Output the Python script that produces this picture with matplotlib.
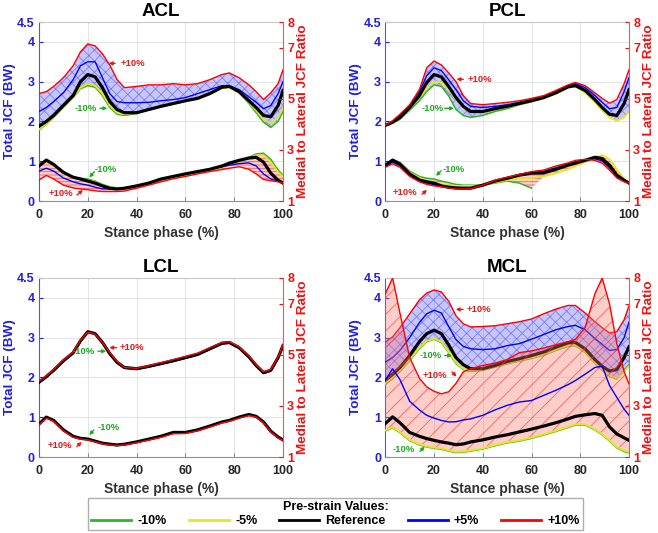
import numpy as np
import matplotlib
matplotlib.use('Agg')
import matplotlib.pyplot as plt
from matplotlib.lines import Line2D

plt.rcParams['font.family'] = ['Liberation Sans', 'DejaVu Sans']
plt.rcParams['font.weight'] = 'bold'
plt.rcParams['hatch.linewidth'] = 0.6

nan = np.nan

# ---------------- data ----------------
stance = [0, 3, 6, 10, 14, 17, 20, 23, 26, 29, 32, 35, 40, 45, 50, 55, 60, 65, 70, 75, 78, 82, 86, 89, 92, 95, 98, 100]

series_labels = ['-10%', '-5%', 'Reference', '+5%', '+10%']
series_colors = ['#2db52d', '#e6e620', '#000000', '#0000ff', '#ff0000']

# ACL - Total JCF (BW)
acl_jcf_m10 = [1.78,1.93,2.10,2.36,2.60,2.82,2.90,2.86,2.65,2.35,2.18,2.15,2.20,2.30,2.38,2.45,2.52,2.60,2.72,2.85,2.86,2.72,2.45,2.22,1.98,1.85,2.00,2.25]
acl_jcf_m5  = [1.80,1.95,2.12,2.38,2.62,2.85,2.95,2.90,2.70,2.40,2.22,2.18,2.22,2.30,2.38,2.45,2.52,2.60,2.72,2.85,2.86,2.72,2.48,2.28,2.05,1.95,2.10,2.35]
acl_jcf_ref = [1.88,2.00,2.15,2.40,2.65,3.00,3.18,3.12,2.85,2.50,2.30,2.22,2.22,2.30,2.38,2.45,2.52,2.58,2.70,2.86,2.88,2.75,2.52,2.35,2.15,2.12,2.40,2.78]
acl_jcf_p5  = [2.25,2.35,2.50,2.72,3.05,3.40,3.50,3.50,3.10,2.70,2.50,2.47,2.47,2.48,2.52,2.55,2.60,2.70,2.80,2.90,2.90,2.80,2.62,2.48,2.32,2.40,2.70,3.00]
acl_jcf_p10 = [2.70,2.75,2.88,3.10,3.40,3.75,3.95,3.90,3.70,3.42,3.05,2.85,2.88,2.92,2.92,2.95,2.92,2.95,3.05,3.18,3.22,3.10,2.92,2.75,2.55,2.72,2.95,3.30]
# ACL - Medial to lateral JCF ratio
acl_rat_m10 = [2.48,2.56,2.43,2.12,1.93,1.89,1.86,1.78,1.65,1.56,1.51,1.50,1.56,1.68,1.81,1.90,2.00,2.09,2.20,2.32,2.43,2.56,2.71,2.84,2.87,2.63,2.21,2.01]
acl_rat_m5  = [2.43,2.52,2.40,2.09,1.90,1.86,1.81,1.75,1.62,1.54,1.50,1.50,1.56,1.68,1.81,1.90,2.00,2.09,2.20,2.32,2.43,2.56,2.68,2.79,2.79,2.52,2.12,1.96]
acl_rat_ref = [2.37,2.60,2.43,2.12,1.93,1.86,1.78,1.70,1.59,1.50,1.47,1.50,1.59,1.70,1.86,1.96,2.06,2.15,2.24,2.37,2.48,2.59,2.68,2.71,2.52,2.09,1.81,1.70]
acl_rat_p5  = [2.17,2.28,2.17,1.90,1.75,1.67,1.62,1.54,1.47,1.47,1.47,1.50,1.59,1.72,1.84,1.96,2.06,2.15,2.24,2.34,2.40,2.46,2.49,2.37,2.06,1.86,1.78,1.70]
acl_rat_p10 = [1.82,2.00,1.86,1.62,1.51,1.47,1.44,1.40,1.37,1.37,1.37,1.39,1.50,1.62,1.75,1.87,1.96,2.06,2.15,2.23,2.28,2.34,2.24,2.06,1.84,1.79,1.75,1.70]

# PCL
pcl_jcf_m10 = [1.90,1.96,2.05,2.28,2.52,2.75,2.92,2.88,2.64,2.30,2.15,2.10,2.15,2.25,2.32,2.42,2.50,nan,nan,nan,nan,nan,nan,nan,nan,nan,nan,nan]
pcl_jcf_m5  = [1.90,1.97,2.08,2.32,2.60,2.85,3.00,2.98,2.80,2.55,2.35,2.25,2.22,2.30,2.36,2.43,2.50,2.58,2.70,2.85,2.88,2.72,2.48,2.28,2.10,2.02,2.10,2.25]
pcl_jcf_ref = [1.90,1.98,2.10,2.35,2.65,2.98,3.18,3.12,2.88,2.60,2.38,2.25,2.25,2.32,2.38,2.45,2.52,2.60,2.72,2.87,2.90,2.78,2.55,2.35,2.18,2.15,2.45,2.80]
pcl_jcf_p5  = [1.90,2.00,2.15,2.40,2.75,3.15,3.35,3.28,3.05,2.80,2.52,2.38,2.35,2.38,2.42,2.48,2.55,2.62,2.75,2.90,2.95,2.85,2.65,2.48,2.32,2.35,2.75,3.10]
pcl_jcf_p10 = [1.90,2.02,2.18,2.42,2.80,3.35,3.52,3.42,3.22,3.00,2.65,2.45,2.42,2.45,2.48,2.52,2.58,2.65,2.78,2.92,2.98,2.90,2.72,2.58,2.46,2.55,2.95,3.30]
pcl_rat_m10 = [2.40,2.62,2.51,2.17,1.96,1.89,1.86,1.78,1.72,1.65,1.62,1.62,1.62,1.70,1.78,1.70,1.50,nan,nan,nan,nan,nan,nan,nan,nan,nan,nan,nan]
pcl_rat_m5  = [2.40,2.59,2.48,2.12,1.90,1.81,1.75,1.65,1.62,1.59,1.59,1.59,1.62,1.73,1.82,1.89,1.90,1.96,2.09,2.24,2.37,2.52,2.71,2.79,2.63,2.24,1.86,1.70]
pcl_rat_ref = [2.40,2.60,2.45,2.06,1.82,1.75,1.70,1.59,1.54,1.51,1.50,1.50,1.62,1.78,1.89,2.01,2.09,2.10,2.24,2.40,2.48,2.59,2.71,2.66,2.40,2.01,1.81,1.70]
pcl_rat_p5  = [2.36,2.52,2.38,2.00,1.78,1.70,1.64,1.57,1.52,1.49,1.48,1.49,1.62,1.80,1.91,2.03,2.12,2.16,2.30,2.45,2.53,2.61,2.65,2.57,2.30,1.95,1.78,1.70]
pcl_rat_p10 = [2.32,2.45,2.32,1.96,1.75,1.65,1.59,1.56,1.51,1.47,1.47,1.48,1.62,1.81,1.93,2.04,2.15,2.21,2.37,2.49,2.59,2.63,2.59,2.48,2.21,1.90,1.75,1.70]

# LCL
lcl_jcf_m10 = [1.88,2.02,2.18,2.42,2.62,2.92,3.15,3.10,2.88,2.60,2.38,2.25,2.22,2.28,2.35,2.42,2.50,2.58,2.72,2.86,2.88,2.75,2.52,2.30,2.12,2.18,2.50,2.80]
lcl_jcf_m5  = [1.88,2.02,2.18,2.42,2.62,2.92,3.15,3.10,2.88,2.60,2.38,2.25,2.22,2.28,2.35,2.42,2.50,2.58,2.72,2.86,2.88,2.75,2.52,2.30,2.12,2.18,2.50,2.80]
lcl_jcf_ref = [1.88,2.02,2.18,2.42,2.62,2.92,3.15,3.10,2.88,2.60,2.38,2.25,2.22,2.28,2.35,2.42,2.50,2.58,2.72,2.86,2.88,2.75,2.52,2.30,2.12,2.18,2.50,2.80]
lcl_jcf_p5  = [1.86,2.00,2.16,2.40,2.60,2.90,3.14,3.09,2.87,2.58,2.36,2.23,2.20,2.26,2.33,2.40,2.48,2.56,2.70,2.84,2.86,2.73,2.50,2.28,2.10,2.16,2.48,2.78]
lcl_jcf_p10 = [1.90,2.04,2.20,2.44,2.64,2.94,3.14,3.09,2.88,2.62,2.40,2.25,2.23,2.30,2.37,2.45,2.53,2.61,2.75,2.88,2.90,2.77,2.54,2.32,2.14,2.20,2.52,2.82]
lcl_rat_m10 = [2.29,2.56,2.43,2.06,1.81,1.73,1.70,1.62,1.54,1.50,1.47,1.50,1.59,1.70,1.81,1.96,1.96,2.06,2.21,2.37,2.43,2.56,2.66,2.59,2.37,2.01,1.78,1.67]
lcl_rat_m5  = [2.29,2.56,2.43,2.06,1.81,1.73,1.70,1.62,1.54,1.50,1.47,1.50,1.59,1.70,1.81,1.96,1.96,2.06,2.21,2.37,2.43,2.56,2.66,2.59,2.37,2.01,1.78,1.67]
lcl_rat_ref = [2.29,2.56,2.43,2.06,1.81,1.73,1.70,1.62,1.54,1.50,1.47,1.50,1.59,1.70,1.81,1.96,1.96,2.06,2.21,2.37,2.43,2.56,2.66,2.59,2.37,2.01,1.78,1.67]
lcl_rat_p5  = [2.27,2.54,2.41,2.04,1.79,1.71,1.68,1.60,1.52,1.48,1.45,1.48,1.57,1.68,1.79,1.94,1.94,2.04,2.19,2.35,2.41,2.54,2.64,2.57,2.35,1.99,1.76,1.65]
lcl_rat_p10 = [2.25,2.52,2.40,2.02,1.77,1.70,1.67,1.59,1.51,1.47,1.45,1.47,1.56,1.66,1.77,1.91,1.92,2.02,2.17,2.33,2.40,2.52,2.62,2.56,2.34,1.98,1.75,1.65]

# MCL
mcl_jcf_m10 = [1.82,1.97,2.15,2.42,2.72,2.90,2.96,2.88,2.62,2.35,2.20,2.15,2.18,2.26,2.34,2.41,2.48,2.56,2.68,2.78,2.80,2.63,2.36,2.18,2.03,1.96,2.18,2.32]
mcl_jcf_m5  = [1.85,2.00,2.18,2.45,2.75,2.92,2.98,2.90,2.65,2.38,2.22,2.17,2.20,2.28,2.36,2.43,2.50,2.58,2.70,2.80,2.82,2.65,2.38,2.20,2.05,1.98,2.15,2.28]
mcl_jcf_ref = [1.93,2.08,2.25,2.55,2.90,3.10,3.19,3.10,2.82,2.50,2.32,2.22,2.22,2.30,2.40,2.47,2.55,2.64,2.76,2.87,2.88,2.72,2.45,2.28,2.16,2.20,2.50,2.77]
mcl_jcf_p5  = [2.39,2.50,2.68,3.00,3.38,3.60,3.69,3.62,3.28,2.95,2.78,2.72,2.70,2.72,2.80,2.85,2.96,3.08,3.20,3.28,3.31,3.20,2.98,2.83,2.68,2.70,3.00,3.39]
mcl_jcf_p10 = [2.89,3.02,3.25,3.60,3.95,4.12,4.20,4.15,3.92,3.55,3.35,3.27,3.28,3.30,3.35,3.40,3.47,3.60,3.72,3.81,3.81,3.62,3.40,3.25,3.12,3.15,3.45,3.80]
mcl_rat_m10 = [2.01,2.14,1.95,1.64,1.47,1.39,1.34,1.30,1.23,1.17,1.19,1.23,1.31,1.44,1.55,1.62,1.73,1.86,2.00,2.15,2.25,2.25,2.06,1.87,1.62,1.36,1.21,1.16]
mcl_rat_m5  = [2.04,2.17,1.98,1.67,1.50,1.42,1.37,1.33,1.26,1.20,1.22,1.26,1.34,1.47,1.58,1.65,1.76,1.89,2.03,2.18,2.28,2.28,2.09,1.90,1.65,1.39,1.25,1.20]
mcl_rat_ref = [2.31,2.57,2.34,1.96,1.81,1.72,1.65,1.59,1.54,1.48,1.51,1.59,1.67,1.78,1.87,1.98,2.09,2.21,2.34,2.49,2.59,2.65,2.70,2.63,2.18,1.90,1.75,1.65]
mcl_rat_p5  = [4.00,4.45,4.03,3.18,2.84,2.63,2.52,2.43,2.37,2.38,2.45,2.49,2.63,2.84,3.02,3.15,3.21,3.41,3.61,3.83,3.99,4.24,4.50,4.55,3.80,3.33,2.87,2.63]
mcl_rat_p10 = [7.38,8.00,6.63,4.89,4.08,3.74,3.57,3.47,3.55,3.88,4.33,4.45,4.58,4.67,4.81,5.08,5.15,5.26,5.39,5.51,5.60,6.06,7.38,8.00,6.99,5.43,4.34,3.86]

# annotations: (text, colour, text_x, text_y, tail_x, tail_y, head_x, head_y) in Total-JCF units
acl_notes = [('+10%', 'r', 38.5, 3.46, 31.2, 3.46, 28.6, 3.46),
             ('-10%', 'g', 19.3, 2.33, 25.0, 2.33, 28.0, 2.33),
             ('-10%', 'g', 27.5, 0.80, 22.7, 0.74, 20.6, 0.59),
             ('+10%', 'r', 9.0, 0.20, 15.6, 0.15, 18.0, 0.28)]
pcl_notes = [('+10%', 'r', 38.9, 3.06, 32.0, 3.06, 29.2, 3.06),
             ('-10%', 'g', 19.6, 2.33, 24.4, 2.33, 28.2, 2.33),
             ('-10%', 'g', 28.2, 0.80, 22.9, 0.76, 20.8, 0.63),
             ('+10%', 'r', 8.1, 0.21, 15.1, 0.17, 17.1, 0.28)]
lcl_notes = [('-10%', 'g', 18.4, 2.66, 24.2, 2.66, 27.5, 2.66),
             ('+10%', 'r', 38.1, 2.75, 31.8, 2.75, 28.8, 2.75),
             ('-10%', 'g', 28.7, 0.74, 22.5, 0.68, 20.6, 0.55),
             ('+10%', 'r', 8.6, 0.30, 15.5, 0.26, 17.5, 0.38)]
mcl_notes = [('+10%', 'r', 38.4, 3.71, 31.9, 3.71, 28.9, 3.71),
             ('-10%', 'g', 18.6, 2.55, 24.4, 2.55, 27.4, 2.55),
             ('+10%', 'r', 20.4, 2.06, 27.4, 2.14, 29.2, 2.02),
             ('-10%', 'g', 7.6, 0.19, 14.2, 0.14, 16.2, 0.26)]

# ---------------- figure ----------------
W, H = 658, 533
fig = plt.figure(figsize=(W / 100, H / 100), dpi=100)

BLUE_TXT = '#1f1fe6'
RED_TXT = '#ee1111'
NOTE_COL = {'r': '#e31a1a', 'g': '#22aa22'}

def px_axes(l, t, r, b):
    return fig.add_axes([l / W, 1 - b / H, (r - l) / W, (b - t) / H])

def draw_panel(ax, title, jcf, rat, rat_hatch, notes):
    x = np.array(stance, dtype=float)
    ax2 = ax.twinx()
    ax.set_xlim(0, 100)
    ax.set_ylim(0, 4.5)
    ax2.set_ylim(1, 8)

    # bands
    J = np.array(jcf, dtype=float)
    ax.fill_between(x, np.nanmin(J, axis=0), np.nanmax(J, axis=0),
                    facecolor=(0.45, 0.45, 1.0, 0.40), edgecolor=(0.25, 0.25, 0.95, 0.55),
                    linewidth=0, hatch='xxx', zorder=1)
    R = np.array(rat, dtype=float)
    ax2.fill_between(x, np.nanmin(R, axis=0), np.nanmax(R, axis=0),
                     facecolor=(1.0, 0.45, 0.40, 0.35), edgecolor=(0.92, 0.25, 0.25, 0.75),
                     linewidth=0, hatch=rat_hatch, zorder=1)

    widths = [1.1, 1.4, 2.3, 1.0, 1.0]
    order = [0, 1, 3, 2, 4]
    for k, i in enumerate(order):
        ax.plot(x, jcf[i], color=series_colors[i], lw=widths[i], zorder=3 + k)
        ax2.plot(x, rat[i], color=series_colors[i], lw=widths[i], zorder=3 + k)

    # grid / ticks
    ax.set_axisbelow(True)
    ax.grid(True, color='#e4e4e4', lw=0.7)
    ax.set_xticks([0, 20, 40, 60, 80, 100])
    ax.set_yticks([0, 1, 2, 3, 4, 4.5])
    ax.set_yticklabels(['0', '1', '2', '3', '4', '4.5'])
    ax2.set_yticks([1, 3, 5, 7, 8])
    ax.tick_params(axis='x', direction='in', length=3, colors='#888888', labelcolor='#262626',
                   labelsize=9, pad=5.5)
    ax.tick_params(axis='y', direction='in', length=3, colors=BLUE_TXT, labelsize=9, pad=3)
    ax2.tick_params(axis='y', direction='in', length=3, colors=RED_TXT, labelsize=9, pad=3)
    for lab in ax.get_xticklabels() + ax.get_yticklabels() + ax2.get_yticklabels():
        lab.set_fontweight('bold')

    ax.spines['right'].set_visible(False)
    ax.spines['left'].set_color('#5050ff')
    ax.spines['top'].set_color('#c8c8c8')
    ax.spines['bottom'].set_color('#909090')
    for s in ['left', 'top', 'bottom']:
        ax2.spines[s].set_visible(False)
    ax2.spines['right'].set_color('#ff5050')
    for s in ax.spines.values():
        s.set_linewidth(0.8)
    ax2.spines['right'].set_linewidth(0.8)

    ax.set_title(title, fontsize=13.5, fontweight='bold', pad=4)
    ax.set_xlabel('Stance phase (%)', fontsize=10, fontweight='bold', color='#333333', labelpad=3.5)
    ax.set_ylabel('Total JCF (BW)', fontsize=9.7, fontweight='bold', color=BLUE_TXT, labelpad=1)
    ax2.set_ylabel('Medial to Lateral JCF Ratio', fontsize=9.7, fontweight='bold', color=RED_TXT,
                   labelpad=2)

    for (txt, c, tx, ty, sx, sy, hx, hy) in notes:
        col = NOTE_COL[c]
        ax.annotate('', xy=(hx, hy), xytext=(sx, sy),
                    arrowprops=dict(arrowstyle='-|>', color=col, lw=1.0, mutation_scale=5,
                                    shrinkA=0, shrinkB=0), zorder=20)
        ax.text(tx, ty, txt, color=col, fontsize=6.8, fontweight='bold', ha='center', va='center',
                zorder=20)
    return ax2

ax_acl = px_axes(39, 22, 283, 201)
ax_pcl = px_axes(385.3, 22, 629, 201)
ax_lcl = px_axes(39, 278, 283, 457)
ax_mcl = px_axes(385.3, 278, 629, 457)

draw_panel(ax_acl, 'ACL',
           [acl_jcf_m10, acl_jcf_m5, acl_jcf_ref, acl_jcf_p5, acl_jcf_p10],
           [acl_rat_m10, acl_rat_m5, acl_rat_ref, acl_rat_p5, acl_rat_p10], '-----', acl_notes)
draw_panel(ax_pcl, 'PCL',
           [pcl_jcf_m10, pcl_jcf_m5, pcl_jcf_ref, pcl_jcf_p5, pcl_jcf_p10],
           [pcl_rat_m10, pcl_rat_m5, pcl_rat_ref, pcl_rat_p5, pcl_rat_p10], '-----', pcl_notes)
draw_panel(ax_lcl, 'LCL',
           [lcl_jcf_m10, lcl_jcf_m5, lcl_jcf_ref, lcl_jcf_p5, lcl_jcf_p10],
           [lcl_rat_m10, lcl_rat_m5, lcl_rat_ref, lcl_rat_p5, lcl_rat_p10], '-----', lcl_notes)
draw_panel(ax_mcl, 'MCL',
           [mcl_jcf_m10, mcl_jcf_m5, mcl_jcf_ref, mcl_jcf_p5, mcl_jcf_p10],
           [mcl_rat_m10, mcl_rat_m5, mcl_rat_ref, mcl_rat_p5, mcl_rat_p10], '//', mcl_notes)

handles = [Line2D([], [], color=c, lw=2.0) for c in series_colors]
leg = fig.legend(handles, series_labels, loc='center', bbox_to_anchor=(335.5 / W, 1 - 514 / H),
                 ncol=5, title='Pre-strain Values:', frameon=True, fancybox=False,
                 edgecolor='#9a9a9a', prop={'weight': 'bold', 'size': 9},
                 title_fontproperties={'weight': 'bold', 'size': 9},
                 handlelength=3.2, handletextpad=0.5, columnspacing=1.75,
                 borderpad=0.25, labelspacing=0.2)
leg.get_frame().set_linewidth(1.0)

fig.savefig('out.png', dpi=100)
